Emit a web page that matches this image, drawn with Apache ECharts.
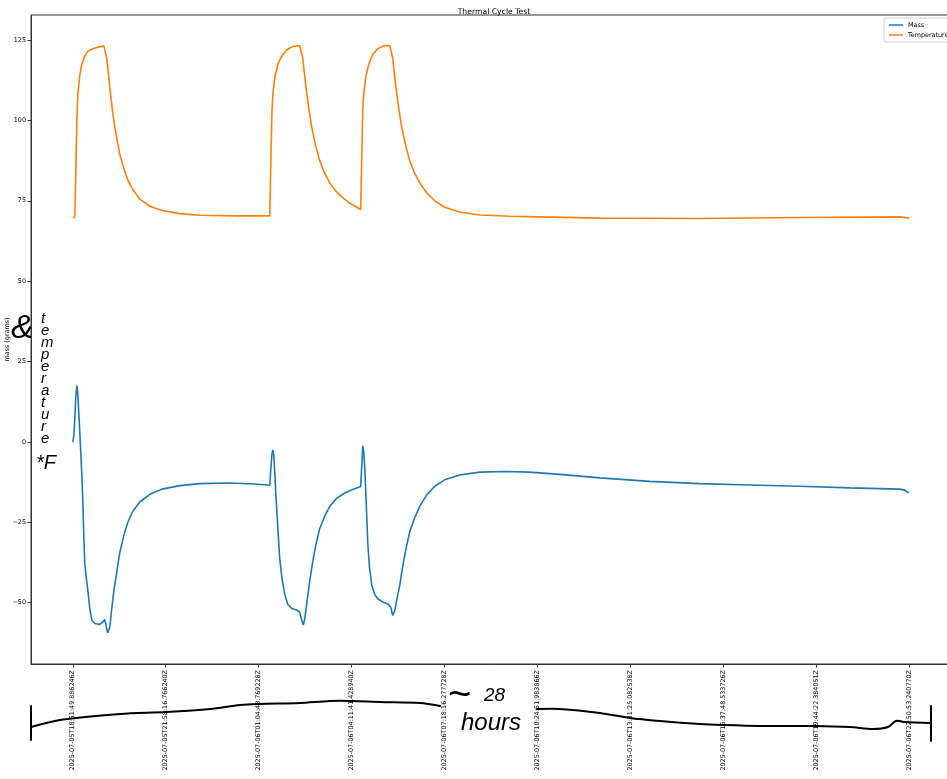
<!DOCTYPE html>
<html>
<head>
<meta charset="utf-8">
<title>Thermal Cycle Test</title>
<script src="https://cdn.jsdelivr.net/npm/echarts@6/dist/echarts.min.js"></script>
<style>
html, body { margin: 0; padding: 0; background: #fff; }
#chart { width: 947px; height: 779px; }
</style>
</head>
<body>
<div id="chart"></div>
<script>
// x tick labels (evenly spaced sample timestamps)
var tickLabels = [
	'2025-07-05T18:51:49.886246Z',
	'2025-07-05T21:58:16.766240Z',
	'2025-07-06T01:04:43.769228Z',
	'2025-07-06T04:11:41.428940Z',
	'2025-07-06T07:18:16.277728Z',
	'2025-07-06T10:24:51.983866Z',
	'2025-07-06T13:31:25.082538Z',
	'2025-07-06T16:37:48.533726Z',
	'2025-07-06T19:44:22.384051Z',
	'2025-07-06T22:50:53.240770Z'
];
var spanHours = 27.98;
var yTicks = [-50, -25, 0, 25, 50, 75, 100, 125];

// mass, hours since start
var massHours = [0, 0.033, 0.067, 0.10, 0.134, 0.167, 0.20, 0.234, 0.30, 0.334, 0.37, 0.40, 0.435, 0.50, 0.57, 0.635, 0.74, 0.90, 1.00, 1.07, 1.12, 1.17, 1.24, 1.30, 1.37, 1.47, 1.57, 1.71, 1.84, 2.01, 2.24, 2.58, 2.98, 3.58, 4.25, 5.25, 6.09, 6.59,
	6.62, 6.66, 6.69, 6.72, 6.76, 6.79, 6.86, 6.92, 6.99, 7.09, 7.19, 7.32, 7.49, 7.59, 7.66, 7.71, 7.76, 7.83, 7.93, 8.03, 8.13, 8.26, 8.43, 8.60, 8.83, 9.10, 9.36, 9.63,
	9.67, 9.70, 9.73, 9.77, 9.82, 9.87, 9.93, 10.0, 10.1, 10.2, 10.37, 10.54, 10.64, 10.70, 10.77, 10.84, 10.94, 11.04, 11.14, 11.27, 11.44, 11.61, 11.84, 12.11, 12.44, 12.94,
	13.61, 14.45, 15.28, 16.29, 17.63, 19.30, 20.97, 22.64, 24.31, 25.99, 27.66, 27.83, 27.96];
var mass = [0, 2, 7, 14, 17.5, 15, 9, 3, -10, -18, -30, -38, -41, -46, -52, -55.5, -56.5, -56.8, -56, -55.3, -57.5, -59.4, -57.5, -52, -46.5, -40.5, -34.5, -29, -25, -21.5, -18.7, -16.3, -14.7, -13.6, -13.0, -12.8, -13.1, -13.5,
	-9, -4, -2.5, -4, -10, -16, -27, -36, -42, -47.5, -50.5, -51.8, -52.3, -53, -55.5, -57, -55, -50, -43, -37, -32, -27, -23, -20, -17.5, -15.9, -14.8, -13.9,
	-7, -1.2, -3, -8.7, -20, -32, -39.5, -44.5, -47.5, -48.8, -49.8, -50.4, -51.5, -54, -52.5, -49, -44.5, -38.5, -33.5, -28, -23.5, -20, -16.5, -13.8, -11.8, -10.3,
	-9.4, -9.2, -9.4, -10.1, -11.2, -12.3, -13.0, -13.4, -13.8, -14.3, -14.7, -15, -15.9];

// temperature, hours since start
var tempHours = [0, 0.067, 0.10, 0.134, 0.167, 0.234, 0.30, 0.40, 0.50, 0.67, 0.84, 1.04,
	1.07, 1.14, 1.24, 1.34, 1.44, 1.57, 1.71, 1.84, 2.01, 2.24, 2.58, 2.98, 3.58, 4.25, 5.59, 6.59,
	6.62, 6.66, 6.69, 6.76, 6.86, 6.99, 7.16, 7.36, 7.59,
	7.63, 7.69, 7.79, 7.89, 7.99, 8.13, 8.26, 8.43, 8.60, 8.80, 9.03, 9.26, 9.50, 9.63,
	9.67, 9.70, 9.73, 9.80, 9.90, 10.03, 10.20, 10.40, 10.60,
	10.64, 10.70, 10.80, 10.90, 11.0, 11.14, 11.27, 11.44, 11.61, 11.84, 12.11, 12.44, 12.94, 13.61, 14.62, 15.62, 17.63, 20.97, 24.31, 27.66, 27.98];
var temp = [69.7, 70, 84, 100, 108, 114, 117.5, 120, 121.5, 122.3, 122.8, 123.2,
	123, 119, 110, 102, 96, 89.5, 85, 81.5, 78.5, 75.5, 73.3, 72, 71, 70.5, 70.3, 70.3,
	85, 102, 108, 113.5, 117.5, 120, 122, 123, 123.3,
	123.3, 119.5, 111, 104, 98, 92, 87.5, 83.5, 80.5, 78, 76, 74.3, 73, 72.3,
	90, 103, 108, 113.5, 117.5, 120.5, 122.3, 123.2, 123.3,
	123.2, 119.5, 111, 104, 98, 92, 87.5, 83.5, 80.5, 77.5, 75, 73, 71.5, 70.6, 70.2, 70, 69.6, 69.5, 69.8, 70, 69.6];

var tickHours = tickLabels.map(function (s, i) { return i * spanHours / (tickLabels.length - 1); });

function pairs(xs, ys) {
	var out = [];
	for (var i = 0; i < xs.length; i++) out.push([xs[i], ys[i]]);
	return out;
}

var font = 'DejaVu Sans';
var hand = 'Liberation Sans';
var ink = { stroke: '#000', lineWidth: 2, fill: null, lineCap: 'round', lineJoin: 'round' };

var myChart = echarts.init(document.getElementById('chart'));
option = {
	animation: false,
	backgroundColor: '#fff',
	title: {
		text: 'Thermal Cycle Test',
		left: 489,
		top: 3,
		textAlign: 'center',
		textStyle: { fontFamily: font, fontSize: 7.7, fontWeight: 'normal', color: '#000' }
	},
	legend: {
		orient: 'vertical',
		left: 884,
		top: 18,
		itemWidth: 14,
		itemHeight: 1.5,
		itemGap: 4,
		icon: 'rect',
		padding: [4, 5, 4, 5],
		borderColor: '#d0d0d0',
		borderWidth: 1,
		borderRadius: 2,
		textStyle: { fontFamily: font, fontSize: 6.4, color: '#000' },
		data: ['Mass', 'Temperature']
	},
	grid: {
		left: 31,
		right: -4,
		top: 15,
		bottom: 115,
		containLabel: false,
		outerBoundsMode: 'none',
		show: true,
		borderColor: '#333',
		borderWidth: 1
	},
	xAxis: {
		type: 'value',
		min: -0.05 * spanHours,
		max: 1.05 * spanHours,
		splitLine: { show: false },
		axisLine: { onZero: false, lineStyle: { color: '#333' } },
		axisTick: { length: 3.5, lineStyle: { color: '#333' }, customValues: tickHours },
		axisLabel: {
			customValues: tickHours,
			rotate: 90,
			margin: 6,
			fontFamily: font,
			fontSize: 6.4,
			color: '#000',
			formatter: function (v) {
				var k = Math.round(v / (spanHours / (tickLabels.length - 1)));
				return tickLabels[k] || '';
			}
		}
	},
	yAxis: {
		type: 'value',
		min: -69.1,
		max: 132.8,
		name: 'mass (grams)',
		nameLocation: 'middle',
		nameGap: 21,
		nameMoveOverlap: false,
		nameTextStyle: { fontFamily: font, fontSize: 6.4, color: '#000' },
		splitLine: { show: false },
		axisLine: { show: true, onZero: false, lineStyle: { color: '#333' } },
		axisTick: { show: true, length: 3.5, lineStyle: { color: '#333' }, customValues: yTicks },
		axisLabel: {
			customValues: yTicks,
			margin: 5,
			fontFamily: font,
			fontSize: 6.4,
			color: '#000',
			formatter: function (v) { return v < 0 ? '\u2212' + Math.abs(v) : String(v); }
		}
	},
	series: [
		{
			name: 'Mass',
			type: 'line',
			symbol: 'none',
			lineStyle: { width: 1.6, color: '#1f77b4' },
			itemStyle: { color: '#1f77b4' },
			data: pairs(massHours, mass)
		},
		{
			name: 'Temperature',
			type: 'line',
			symbol: 'none',
			lineStyle: { width: 1.6, color: '#ff7f0e' },
			itemStyle: { color: '#ff7f0e' },
			data: pairs(tempHours, temp)
		}
	],
	// hand-drawn annotations on top of the plot
	graphic: [
		{ type: 'text', left: 11, top: 312, style: { text: '&', font: 'italic 34px ' + hand, fill: '#000' } },
		{ type: 'text', left: 41, top: 311, style: { text: 'temperature'.split('').join('\n'), font: 'italic 15px ' + hand, lineHeight: 12, fill: '#000' } },
		{ type: 'text', left: 36, top: 453, style: { text: '*F', font: 'italic 20px ' + hand, fill: '#000' } },
		{ type: 'text', left: 448, top: 676, style: { text: '~', font: '40px ' + hand, fill: '#000' } },
		{ type: 'text', left: 484, top: 686, style: { text: '28', font: 'italic 19px ' + hand, fill: '#000' } },
		{ type: 'text', left: 461, top: 711, style: { text: 'hours', font: 'italic 24px ' + hand, fill: '#000' } },
		{ type: 'polyline', shape: { points: [[31, 706], [31, 740]] }, style: ink },
		{ type: 'polyline', shape: { smooth: 0.3, points: [[31, 727], [60, 720], [120, 714], [166, 712], [210, 709], [240, 705], [259, 704], [300, 703], [330, 701], [352, 701], [380, 702], [420, 703], [440, 706]] }, style: ink },
		{ type: 'polyline', shape: { smooth: 0.3, points: [[537, 709], [560, 709], [600, 713], [630, 718], [660, 721], [700, 724], [723, 725], [760, 726], [815, 726], [850, 727], [873, 729], [888, 727], [896, 721], [905, 722], [930, 723]] }, style: ink },
		{ type: 'polyline', shape: { points: [[931, 706], [931, 741]] }, style: ink }
	]
};
myChart.setOption(option);
</script>
</body>
</html>
